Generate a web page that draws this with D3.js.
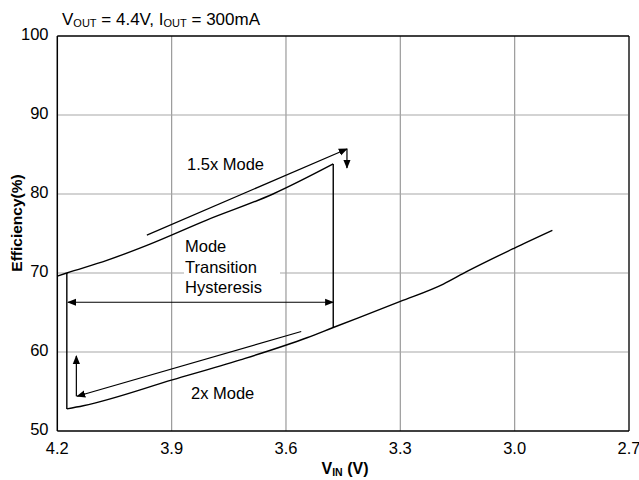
<!DOCTYPE html>
<html><head><meta charset="utf-8">
<script src="https://cdn.jsdelivr.net/npm/d3@7"></script>
<style>body{margin:0;background:#fff}svg{display:block;font-family:"Liberation Sans",Arial,sans-serif}</style>
</head><body>
<svg id="c" width="639" height="480"></svg>
<script>
const xTicks = [4.2, 3.9, 3.6, 3.3, 3.0, 2.7];
const yTicks = [50, 60, 70, 80, 90, 100];
// 1.5x mode branch (VIN falling from 4.2 V)
const upperV = [4.2, 4.175, 4.07, 3.965, 3.808, 3.634, 3.476];
const upperE = [69.6, 70.0, 71.6, 73.5, 76.7, 80.0, 83.8];
// 2x mode branch
const lowerV = [4.175, 4.132, 3.896, 3.72, 3.545, 3.476, 3.30, 3.187, 3.125, 3.003, 2.901];
const lowerE = [52.8, 53.2, 56.5, 59.0, 61.8, 63.1, 66.4, 68.6, 70.2, 73.1, 75.4];
// mode transitions (vertical jumps)
const jumpDownV = 3.476, jumpDownTop = 83.8, jumpDownBottom = 63.1;
const jumpUpV = 4.175, jumpUpBottom = 52.8, jumpUpTop = 70.0;
// annotation arrows [v, efficiency] pairs
const arrowUpperLine = [[3.965, 74.8], [3.44, 85.7]];
const arrowUpperDrop = [[3.44, 85.7], [3.44, 83.3]];
const arrowHysteresis = [[4.172, 66.3], [3.476, 66.3]];
const arrowLowerLine = [[3.56, 62.6], [4.148, 54.4]];
const arrowLowerRise = [[4.15, 54.4], [4.15, 59.5]];

const svg = d3.select("#c");
const L = 57.3, R = 629, T = 36, B = 431;
const x = d3.scaleLinear().domain([4.2, 2.7]).range([L, R]);
const y = d3.scaleLinear().domain([50, 100]).range([B, T]);
const FS = 16.5;

const defs = svg.append("defs");
defs.append("marker").attr("id","ah").attr("viewBox","0 0 10 10").attr("refX",9).attr("refY",5)
  .attr("markerWidth",9).attr("markerHeight",9).attr("markerUnits","userSpaceOnUse").attr("orient","auto-start-reverse")
  .append("path").attr("d","M0,1 L10,5 L0,9 Z").attr("fill","#000");

// grid
const g = svg.append("g");
g.selectAll(".gx").data(xTicks.slice(1,-1)).join("line")
  .attr("x1",d=>x(d)).attr("x2",d=>x(d)).attr("y1",T).attr("y2",B)
  .attr("stroke","#9a9a9a").attr("stroke-width",1.2);
g.selectAll(".gy").data(yTicks.slice(1,-1)).join("line")
  .attr("x1",L).attr("x2",R).attr("y1",d=>y(d)).attr("y2",d=>y(d))
  .attr("stroke","#a8a8a8").attr("stroke-width",1.2);
// frame
svg.append("line").attr("x1",R).attr("x2",R).attr("y1",T).attr("y2",B).attr("stroke","#555").attr("stroke-width",2);
svg.append("line").attr("x1",L).attr("x2",R).attr("y1",T).attr("y2",T).attr("stroke","#000").attr("stroke-width",1.5);
svg.append("line").attr("x1",L).attr("x2",L).attr("y1",T).attr("y2",B).attr("stroke","#000").attr("stroke-width",1.5);
svg.append("line").attr("x1",L).attr("x2",R).attr("y1",B).attr("y2",B).attr("stroke","#000").attr("stroke-width",1.5);

// tick labels
svg.selectAll(".xt").data(xTicks).join("text")
  .attr("x",d=>x(d)).attr("y",454).attr("text-anchor","middle").attr("font-size",FS)
  .text(d=>d.toFixed(1));
svg.selectAll(".yt").data(yTicks).join("text")
  .attr("x",48.5).attr("y",d=>y(d)+4).attr("text-anchor","end").attr("font-size",FS)
  .text(d=>d);

// axis titles
const xl = svg.append("text").attr("x",345).attr("y",474).attr("text-anchor","middle").attr("font-size",16).attr("font-weight","bold");
xl.append("tspan").text("V");
xl.append("tspan").attr("font-size",10.5).attr("dy",2).text("IN");
xl.append("tspan").attr("dy",-2).text(" (V)");
svg.append("text").attr("transform","translate(22,223) rotate(-90)").attr("text-anchor","middle")
  .attr("font-size",15.5).attr("font-weight","bold").text("Efficiency(%)");

// title
const t = svg.append("text").attr("x",62).attr("y",25).attr("font-size",17);
t.append("tspan").text("V");
t.append("tspan").attr("font-size",11).attr("dy",2).text("OUT");
t.append("tspan").attr("dy",-2).text(" = 4.4V, I");
t.append("tspan").attr("font-size",11).attr("dy",2).text("OUT");
t.append("tspan").attr("dy",-2).text(" = 300mA");

// label background for hysteresis text (covers grid)
svg.append("rect").attr("x",184).attr("y",262).attr("width",96).attr("height",18).attr("fill","#fff");

// curves
const line = d3.line().x(d=>x(d[0])).y(d=>y(d[1]));
const sline = d3.line().x(d=>x(d[0])).y(d=>y(d[1])).curve(d3.curveMonotoneX);
const cs = svg.append("g").attr("fill","none").attr("stroke","#000").attr("stroke-width",1.4);
cs.append("path").attr("d", sline(upperV.map((v,i)=>[v,upperE[i]])));
cs.append("path").attr("d", sline(lowerV.map((v,i)=>[v,lowerE[i]])));
cs.append("path").attr("d", line([[jumpDownV,jumpDownTop],[jumpDownV,jumpDownBottom]]));
cs.append("path").attr("d", line([[jumpUpV,jumpUpBottom],[jumpUpV,jumpUpTop]]));

// annotation arrows
const arrows = [
  {p:arrowUpperLine, end:true},
  {p:arrowUpperDrop, end:true},
  {p:arrowHysteresis, start:true, end:true},
  {p:arrowLowerLine, end:true},
  {p:arrowLowerRise, end:true}
];
const as = svg.append("g").attr("fill","none").attr("stroke","#000").attr("stroke-width",1.2);
arrows.forEach(a=>{
  const p = as.append("path").attr("d", line(a.p));
  if (a.end) p.attr("marker-end","url(#ah)");
  if (a.start) p.attr("marker-start","url(#ah)");
});

// labels
const lab = [["1.5x Mode",187,170],["Mode",185,252],["Transition",185,273],["Hysteresis",185,293],["2x Mode",191,399]];
svg.selectAll(".lb").data(lab).join("text").attr("x",d=>d[1]).attr("y",d=>d[2]).attr("font-size",FS).text(d=>d[0]);
</script>
</body></html>
